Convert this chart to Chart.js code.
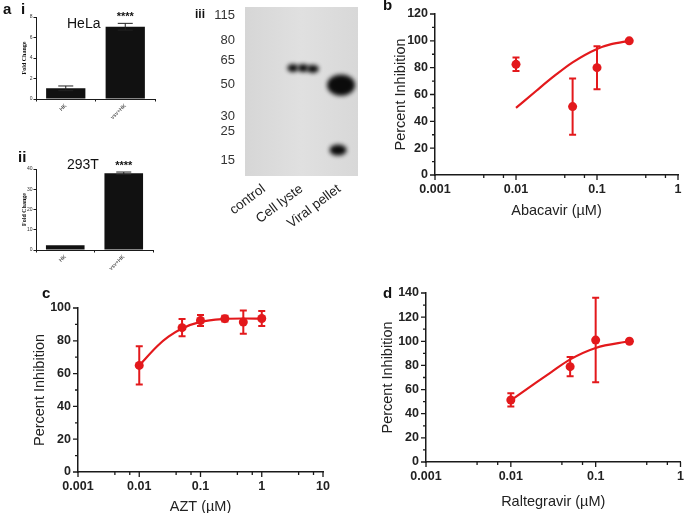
<!DOCTYPE html>
<html>
<head>
<meta charset="utf-8">
<script src="https://cdn.jsdelivr.net/npm/chart.js@4.4.1/dist/chart.umd.min.js"></script>
<style>
  body { margin: 0; width: 685px; height: 513px; overflow: hidden; background: #fff; position: relative; font-family: 'Liberation Sans', Arial, sans-serif; }
  .panel { position: absolute; }
  .lbl { position: absolute; line-height: 1; color: #111; white-space: nowrap; }
  .letter { font-weight: bold; font-size: 15px; }
</style>
</head>
<body>
<div class="panel" style="left:0;top:0;width:180px;height:130px"><canvas id="helaChart" width="180" height="130"></canvas></div>
<div class="panel" style="left:0;top:130px;width:180px;height:140px"><canvas id="t293Chart" width="180" height="140"></canvas></div>
<div class="panel" style="left:190px;top:0;width:190px;height:270px"><canvas id="blotChart" width="190" height="270"></canvas></div>
<div class="panel" style="left:380px;top:0;width:305px;height:240px"><canvas id="abacavirChart" width="305" height="240"></canvas></div>
<div class="panel" style="left:0;top:280px;width:340px;height:236px"><canvas id="aztChart" width="340" height="236"></canvas></div>
<div class="panel" style="left:340px;top:280px;width:345px;height:233px"><canvas id="raltegravirChart" width="345" height="233"></canvas></div>

<div class="lbl letter" style="left:3px;top:1px">a</div>
<div class="lbl letter" style="left:21px;top:1px">i</div>
<div class="lbl" style="left:67px;top:16px;font-size:14px">HeLa</div>
<div class="lbl letter" style="left:18px;top:149px">ii</div>
<div class="lbl" style="left:67px;top:157px;font-size:14px">293T</div>
<div class="lbl letter" style="left:195px;top:8px;font-size:12px">iii</div>
<div class="lbl letter" style="left:383px;top:-3px">b</div>
<div class="lbl letter" style="left:42px;top:285px">c</div>
<div class="lbl letter" style="left:383px;top:285px">d</div>

<script>
// ---- data ----
const barCats = ['HK', 'vsv+HK'];
const helaFold = [1.04, 7.05];
const helaErr = [0.23, 0.33];
const helaSig = ['', '****'];
const t293Fold = [2.3, 37.9];
const t293Err = [0, 0.6];
const t293Sig = ['', '****'];

const lanes = ['control', 'Cell lyste', 'Viral pellet'];
const markerKDa = ['115', '80', '65', '50', '30', '25', '15'];
const markerRf = [0.047, 0.195, 0.314, 0.46, 0.645, 0.734, 0.91];
const bandLane = [0.77, 1.04, 1.3, 2.05, 1.97];
const bandRf = [0.361, 0.361, 0.366, 0.462, 0.846];

const logTickLabels = ['0.001', '0.01', '0.1', '1', '10'];
const minorSteps = [4, 7];

const abacavirConc = [0.01, 0.05, 0.1, 0.25];
const abacavirInhib = [82.5, 51, 80, 100];
const abacavirErr = [5, 21, 16, 0.5];
const abacavirFitX = [0.01, 0.018, 0.03, 0.05, 0.1, 0.15, 0.25];
const abacavirFitY = [50, 63, 74, 84, 94, 97.5, 100];

const aztConc = [0.01, 0.05, 0.1, 0.25, 0.5, 1];
const aztInhib = [65, 88, 92.4, 93.5, 91.4, 93.6];
const aztErr = [11.7, 5.3, 3.3, 1.8, 7.1, 4.5];
const aztFitX = [0.01, 0.02, 0.03, 0.05, 0.1, 0.25, 0.5, 1];
const aztFitY = [65, 77, 82.5, 87.5, 91.5, 93.3, 93.6, 93.5];

const raltegravirConc = [0.01, 0.05, 0.1, 0.25];
const raltegravirInhib = [51.4, 79, 101, 100];
const raltegravirErr = [5.5, 8, 35, 0.5];
const raltegravirFitX = [0.01, 0.02, 0.03, 0.05, 0.1, 0.25];
const raltegravirFitY = [51, 66, 74.5, 85, 94.5, 100];

// ---- styles ----
const RED = '#e3191c';
const AX = '#1a1a1a';
const FONT = "'Liberation Sans', Arial, sans-serif";
Chart.defaults.font.family = FONT;

const errorBars = {
    id: 'errorBars',
    afterDatasetsDraw(chart) {
        const ctx = chart.ctx;
        const ys = chart.scales.y;
        chart.data.datasets.forEach((ds, i) => {
            if (!ds.errors) return;
            chart.getDatasetMeta(i).data.forEach((el, j) => {
                const raw = ds.data[j];
                const v = typeof raw === 'object' ? raw.y : raw;
                const e = ds.errors[j];
                const top = ys.getPixelForValue(v + e), bot = ys.getPixelForValue(v - e);
                ctx.save();
                ctx.strokeStyle = ds.errColor;
                ctx.lineWidth = ds.errWidth;
                if (e > 0) {
                    ctx.beginPath();
                    ctx.moveTo(el.x, top); ctx.lineTo(el.x, bot);
                    ctx.moveTo(el.x - ds.capHalf, top); ctx.lineTo(el.x + ds.capHalf, top);
                    ctx.moveTo(el.x - ds.capHalf, bot); ctx.lineTo(el.x + ds.capHalf, bot);
                    ctx.stroke();
                }
                if (ds.stars && ds.stars[j]) {
                    ctx.fillStyle = '#111';
                    ctx.font = 'bold 11px ' + FONT;
                    ctx.textAlign = 'center';
                    ctx.textBaseline = 'alphabetic';
                    ctx.fillText(ds.stars[j], el.x, top - 3);
                }
                ctx.restore();
            });
        });
    }
};

const tickMarks = {
    id: 'tickMarks',
    afterDraw(chart) {
        const { ctx, chartArea: a, scales: { x, y } } = chart;
        ctx.save();
        ctx.strokeStyle = AX;
        ctx.lineWidth = 1.3;
        ctx.beginPath();
        y.ticks.forEach(t => {
            const py = y.getPixelForValue(t.value);
            const len = t.label !== '' ? 5 : 3;
            ctx.moveTo(a.left - len, py); ctx.lineTo(a.left, py);
        });
        x.ticks.forEach(t => {
            const px = x.getPixelForValue(t.value);
            const len = t.label !== '' ? 5 : 3;
            ctx.moveTo(px, a.bottom); ctx.lineTo(px, a.bottom + len);
        });
        ctx.stroke();
        ctx.restore();
    }
};

const gelBackground = {
    id: 'gelBackground',
    beforeDatasetsDraw(chart) {
        const { ctx, chartArea: a } = chart;
        ctx.save();
        const g = ctx.createLinearGradient(a.left, 0, a.right, 0);
        g.addColorStop(0, '#d6d6d6');
        g.addColorStop(0.5, '#e0e0e0');
        g.addColorStop(1, '#d8d8d8');
        ctx.fillStyle = g;
        ctx.fillRect(a.left, a.top, a.right - a.left, a.bottom - a.top);
        ctx.restore();
    }
};

function barChart(id, values, errs, stars, yMax, step, pad) {
    return new Chart(document.getElementById(id), {
        type: 'bar',
        data: {
            labels: barCats,
            datasets: [{
                data: values, errors: errs, stars: stars,
                backgroundColor: '#111', borderWidth: 0,
                barPercentage: 0.66, categoryPercentage: 1,
                errColor: '#222', errWidth: 1, capHalf: 7.5
            }]
        },
        options: {
            responsive: false, animation: false, devicePixelRatio: 1,
            layout: { padding: pad },
            plugins: { legend: { display: false }, tooltip: { enabled: false } },
            scales: {
                x: {
                    afterFit: s => { s.height = pad.xH; s.paddingLeft = 0; s.paddingRight = 0; },
                    grid: { display: true, drawOnChartArea: false, tickLength: 2.5, tickColor: AX },
                    border: { display: true, color: AX, width: 1 },
                    ticks: { minRotation: 45, maxRotation: 45, padding: 1, color: '#333', font: { size: 5.5 } }
                },
                y: {
                    min: 0, max: yMax,
                    afterFit: s => { s.width = pad.yW; s.paddingTop = 0; s.paddingBottom = 0; },
                    grid: { display: true, drawOnChartArea: false, tickLength: 2.5, tickColor: AX },
                    border: { display: true, color: AX, width: 1 },
                    ticks: { stepSize: step, padding: 1, color: '#333', font: { size: 5 } },
                    title: { display: true, text: 'Fold Change', padding: 0, color: '#111',
                        font: { family: "'Liberation Serif', 'Times New Roman', serif", size: 6, weight: 'bold' } }
                }
            }
        },
        plugins: [errorBars]
    });
}

barChart('helaChart', helaFold, helaErr, helaSig, 8, 2,
    { left: 20.4, top: 17, right: 25, bottom: 0, yW: 15.6, xH: 31 });
barChart('t293Chart', t293Fold, t293Err, t293Sig, 40, 10,
    { left: 20.4, top: 39, right: 27, bottom: 0, yW: 15.6, xH: 20 });

// western blot: bands drawn as blurred spots at (lane, relative migration)
function bandImage(w, h, blur) {
    const c = document.createElement('canvas');
    c.width = Math.ceil(w + blur * 6);
    c.height = Math.ceil(h + blur * 6);
    const g = c.getContext('2d');
    g.filter = 'blur(' + blur + 'px)';
    g.fillStyle = '#0b0b0b';
    g.beginPath();
    g.ellipse(c.width / 2, c.height / 2, w / 2, h / 2, 0, 0, Math.PI * 2);
    g.fill();
    return c;
}
const bandImgs = [bandImage(11, 8, 2), bandImage(11, 8, 2), bandImage(12, 8, 2), bandImage(28, 21, 2), bandImage(17, 11, 2)];

new Chart(document.getElementById('blotChart'), {
    type: 'scatter',
    data: {
        datasets: [{
            data: bandLane.map((x, i) => ({ x: x, y: bandRf[i] })),
            pointStyle: c => bandImgs[c.dataIndex],
            pointRadius: 5
        }]
    },
    options: {
        responsive: false, animation: false, devicePixelRatio: 1,
        layout: { padding: { left: 0, top: 7, right: 22, bottom: 0 } },
        plugins: { legend: { display: false }, tooltip: { enabled: false } },
        scales: {
            x: {
                type: 'linear', min: -0.5, max: 2.5,
                afterBuildTicks: s => { s.ticks = lanes.map((_, i) => ({ value: i })); },
                afterFit: s => { s.height = 94; s.paddingLeft = 0; s.paddingRight = 0; },
                grid: { display: false, drawTicks: false }, border: { display: false },
                ticks: { callback: (v, i) => lanes[i], minRotation: 37, maxRotation: 37, autoSkip: false,
                    padding: 5, color: '#222', font: { size: 13.5 } }
            },
            y: {
                type: 'linear', reverse: true, min: 0, max: 1,
                afterBuildTicks: s => { s.ticks = markerRf.map(v => ({ value: v })); },
                afterFit: s => { s.width = 55; s.paddingTop = 0; s.paddingBottom = 0; },
                grid: { display: false, drawTicks: false }, border: { display: false },
                ticks: { callback: (v, i) => markerKDa[i], autoSkip: false, padding: 10, color: '#333', font: { size: 13 } }
            }
        }
    },
    plugins: [gelBackground]
});

// dose response panels
function logTicks(max) {
    const t = [];
    logTickLabels.map(Number).filter(d => d <= max).forEach(d => {
        t.push({ value: d });
        if (d < max) minorSteps.forEach(m => t.push({ value: d * m }));
    });
    return t;
}
function decadeLabel(v) {
    const l = logTickLabels.find(s => Math.abs(Number(s) - v) < v * 1e-6);
    return l || '';
}

function doseChart(id, c) {
    return new Chart(document.getElementById(id), {
        type: 'scatter',
        data: {
            datasets: [
                {
                    data: c.fitX.map((x, i) => ({ x: x, y: c.fitY[i] })),
                    showLine: true, borderColor: RED, borderWidth: 2.2, pointRadius: 0,
                    cubicInterpolationMode: 'monotone'
                },
                {
                    data: c.x.map((x, i) => ({ x: x, y: c.y[i] })),
                    errors: c.err, errColor: RED, errWidth: 2, capHalf: 3.5,
                    pointRadius: 4.5, backgroundColor: RED, borderColor: RED, borderWidth: 0
                }
            ]
        },
        options: {
            responsive: false, animation: false, devicePixelRatio: 1,
            layout: { padding: c.pad },
            plugins: { legend: { display: false }, tooltip: { enabled: false } },
            scales: {
                x: {
                    type: 'logarithmic', min: 0.001, max: c.xMax,
                    afterBuildTicks: s => { s.ticks = logTicks(c.xMax); },
                    afterFit: s => { s.height = c.pad.xH; s.paddingLeft = 0; s.paddingRight = 0; },
                    grid: { display: true, drawOnChartArea: false, tickLength: 5, color: 'rgba(0,0,0,0)', tickColor: 'rgba(0,0,0,0)' },
                    border: { display: true, color: AX, width: 1.5 },
                    ticks: { autoSkip: false, minRotation: 0, maxRotation: 0, padding: 2, color: '#222',
                        font: { size: 12.5, weight: 'bold' }, callback: v => decadeLabel(v) },
                    title: { display: true, text: c.xTitle, padding: 0, color: '#222', font: { size: 14.5 } }
                },
                y: {
                    min: 0, max: c.yMax,
                    afterFit: s => { s.width = c.pad.yW; s.paddingTop = 0; s.paddingBottom = 0; },
                    grid: { display: true, drawOnChartArea: false, tickLength: 5, color: 'rgba(0,0,0,0)', tickColor: 'rgba(0,0,0,0)' },
                    border: { display: true, color: AX, width: 1.5 },
                    ticks: { stepSize: 10, maxTicksLimit: 40, autoSkip: false, padding: 2, color: '#222',
                        font: { size: 12.5, weight: 'bold' }, callback: v => (v % 20 === 0 ? v : '') },
                    title: { display: true, text: 'Percent Inhibition', padding: 0, color: '#222', font: { size: 14.5 } }
                }
            }
        },
        plugins: [errorBars, tickMarks]
    });
}

doseChart('abacavirChart', {
    x: abacavirConc, y: abacavirInhib, err: abacavirErr, fitX: abacavirFitX, fitY: abacavirFitY,
    xMax: 1, yMax: 120, xTitle: 'Abacavir (\u00b5M)',
    pad: { left: 12, top: 14, right: 7, bottom: 20, yW: 43, xH: 45 }
});
doseChart('aztChart', {
    x: aztConc, y: aztInhib, err: aztErr, fitX: aztFitX, fitY: aztFitY,
    xMax: 10, yMax: 100, xTitle: 'AZT (\u00b5M)',
    pad: { left: 31, top: 28, right: 17, bottom: 0, yW: 47, xH: 44 }
});
doseChart('raltegravirChart', {
    x: raltegravirConc, y: raltegravirInhib, err: raltegravirErr, fitX: raltegravirFitX, fitY: raltegravirFitY,
    xMax: 1, yMax: 140, xTitle: 'Raltegravir (\u00b5M)',
    pad: { left: 39.3, top: 13, right: 2, bottom: 2.3, yW: 46.7, xH: 48.7 }
});
</script>
</body>
</html>
